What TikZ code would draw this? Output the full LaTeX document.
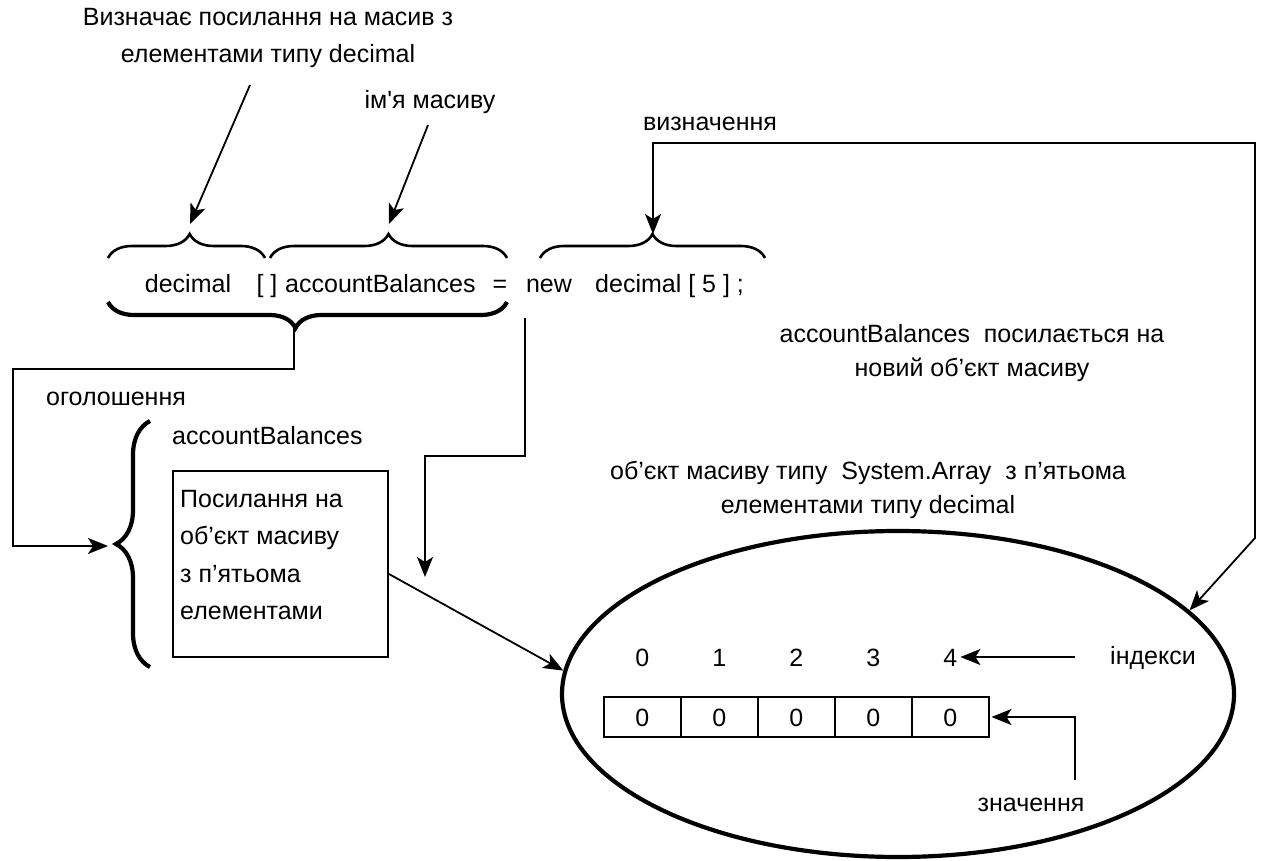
\documentclass[tikz,border=0pt]{standalone}
\usepackage{fontspec}
\setmainfont{Liberation Sans}
\newfontfamily\lsans{Liberation Sans}
\usetikzlibrary{decorations.pathreplacing,arrows.meta,shapes.geometric}

\begin{document}
\begin{tikzpicture}[x=1pt,y=-1pt,
  font=\lsans\fontsize{25}{37.5}\selectfont,
  txt/.style={inner sep=0pt, align=center},
  note/.style={inner sep=0pt, align=center, font=\lsans\fontsize{25}{34.5}\selectfont},
  word/.style={inner sep=0pt, anchor=base},
  conn/.style={line width=1.8pt, -{Stealth[length=20pt,width=16pt,inset=5pt]}},
  both/.style={line width=1.8pt, {Stealth[length=20pt,width=16pt,inset=5pt]}-{Stealth[length=20pt,width=16pt,inset=5pt]}},
  bracethin/.style={decorate, decoration={brace, amplitude=24pt, aspect=#1}, line width=2.6pt},
  bracethick/.style={decorate, decoration={brace, amplitude=#1, aspect=0.5}, line width=4.2pt},
  cell/.style={draw, line width=1.5pt, minimum width=77pt, minimum height=40pt, inner sep=0pt, anchor=west},
]
\useasboundingbox (0,0) rectangle (1280,861);

% headings and explanatory texts
\node[txt] (title) at (268,38) {Визначає посилання на масив з\\елементами типу decimal};
\node[word] (name) at (430,109) {ім'я масиву};
\node[word] (defn) at (710,131) {визначення};
\node[word, anchor=base west] (decl) at (46,405) {оголошення};
\node[note] (refnote) at (972,353) {accountBalances\ \ посилається на\\новий об’єкт масиву};
\node[note] (objnote) at (868,490) {об’єкт масиву типу\ \ System.Array\ \ з п’ятьома\\елементами типу decimal};

% the declaration line
\node[word] (kdec) at (188,292) {decimal};
\node[word] (kbr) at (267,292) {[ ]};
\node[word, anchor=base west] (kacc) at (285,292) {accountBalances};
\node[word] (keq) at (500,292) {=};
\node[word] (knew) at (549,292) {new};
\node[word, anchor=base west] (knd) at (595,292) {decimal [ 5 ] ;};

% braces over the parts of the declaration
\draw[bracethin=0.52] (108,258) -- (265,258);
\draw[bracethin=0.5] (270,258) -- (507,258);
\draw[bracethin=0.5] (540,258) -- (765,258);
\coordinate (t1) at (190,224);
\coordinate (t2) at (389,224);
\coordinate (t3) at (653,234);

% brace under the declaration part
\draw[bracethick=26pt, decoration={aspect=0.53}] (507,302) -- (108,302);
\coordinate (t4) at (294,328);

% variable and its reference box
\node[word, anchor=base west] (var) at (172,444) {accountBalances};
\node[draw, line width=1.5pt, minimum width=215pt, minimum height=186pt, anchor=north west] (box) at (172,470) {};
\node[txt, align=left, anchor=north west] (boxtext) at (180,490) {Посилання на\\об’єкт масиву\\з п’ятьома\\елементами};
\draw[bracethick=34pt] (150,667) -- (150,421);
\coordinate (t5) at (108,546);

% array object
\node[draw, ellipse, line width=4.2pt, minimum width=672pt, minimum height=326pt] (ell) at (898,694) {};
\foreach \i in {0,...,4} {
  \node[cell] (c\i) at ({603+77*\i},717) {};
  \node[word] (v\i) at (c\i.center) [yshift=-9pt] {0};
  \node[word] (n\i) at (c\i.center |- 0,666) {\i};
}
\node[word] (idx) at (1153,664) {індекси};
\node[word] (val) at (1031,811) {значення};

% connector end points
\coordinate (a1) at (250,85);
\coordinate (a2) at (428,125);
\coordinate (d1) at (1255,143);
\coordinate (d2) at (1255,538);
\coordinate (l1) at (13,369);
\coordinate (e1) at (525,318);
\coordinate (e2) at (425,456);
\coordinate (e3) at (425,577);
\coordinate (i1) at (1075,657);
\coordinate (w1) at (1075,780);

% connectors
\draw[conn] (a1) -- (t1);
\draw[conn] (a2) -- (t2);
\draw[both] (t3) |- (d1) -- (d2) -- (ell.16);
\draw[conn] (t4) |- (l1) |- (t5);
\draw[conn] (e1) |- (e2) -- (e3);
\draw[conn] ([yshift=-10pt]box.east) -- (ell.176);
\draw[conn] (i1) -- ([xshift=3pt]n4.east |- i1);
\draw[conn] (w1) |- ([xshift=2pt]c4.east);
\end{tikzpicture}
\end{document}
